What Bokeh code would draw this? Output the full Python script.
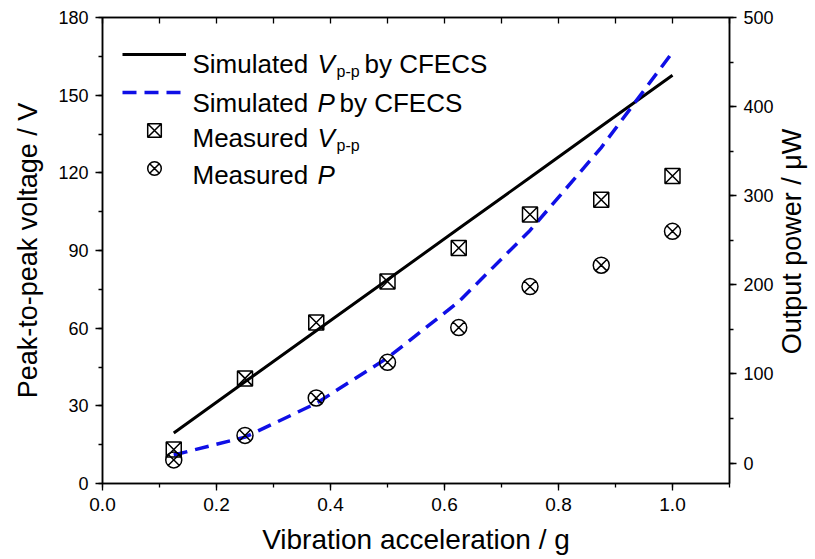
import math
from bokeh.plotting import figure
from bokeh.models import (LinearAxis, Range1d, SingleIntervalTicker, Legend, LegendItem,
                          Label, CustomJSTickFormatter, NumeralTickFormatter)
from bokeh.embed import file_html
from bokeh.resources import INLINE

# ---- data ----
accel = [0.125, 0.25, 0.375, 0.5, 0.625, 0.75, 0.875, 1.0]
sim_vpp = [19.5, 39.3, 59.0, 78.7, 98.5, 118.2, 138.0, 157.7]
sim_power = [9, 29, 67, 118, 181, 261, 354, 461]
meas_vpp = [13.1, 40.6, 62.2, 78.0, 91.0, 103.9, 109.6, 118.8]
meas_power = [3.5, 31, 73, 113, 152, 198, 222, 260]

x_title = "Vibration acceleration / g"
y_title = "Peak-to-peak voltage / V"
y2_title = "Output power / \u03bcW"

FONT = "Liberation Sans"
BLUE = "#0f0fe6"

p = figure(width=815, height=559, x_range=Range1d(0, 1.1), y_range=Range1d(0, 180),
           output_backend="svg", toolbar_location=None,
           min_border_left=102, min_border_right=86, min_border_top=17, min_border_bottom=76)
p.extra_y_ranges = {"power": Range1d(-23, 500)}
p.xgrid.visible = False
p.ygrid.visible = False
p.outline_line_color = "black"
p.outline_line_width = 1.5
p.background_fill_color = "white"
p.border_fill_color = "white"


def style_axis(ax, label_size="18px"):
    ax.axis_line_color = "black"
    ax.axis_line_width = 1.5
    ax.major_tick_line_color = "black"
    ax.minor_tick_line_color = "black"
    ax.major_tick_line_width = 1.3
    ax.minor_tick_line_width = 1.3
    ax.major_tick_in = 0
    ax.minor_tick_in = 0
    ax.major_tick_out = 7
    ax.minor_tick_out = 4
    ax.major_label_text_font = FONT
    ax.major_label_text_font_size = label_size
    ax.major_label_text_color = "black"
    ax.axis_label_text_font = FONT
    ax.axis_label_text_font_style = "normal"
    ax.axis_label_text_font_size = "27px"
    ax.axis_label_text_color = "black"


xa = p.xaxis[0]
xa.ticker = SingleIntervalTicker(interval=0.2, num_minor_ticks=2)
xa.formatter = NumeralTickFormatter(format="0.0")
style_axis(xa, "19px")
xa.axis_label = x_title
xa.axis_label_text_font_size = "28px"
xa.major_label_standoff = 7
xa.axis_label_standoff = 10

ya = p.yaxis[0]
ya.ticker = SingleIntervalTicker(interval=30, num_minor_ticks=2)
style_axis(ya)
ya.axis_label = y_title
ya.major_label_standoff = 7
ya.axis_label_standoff = 12

ya2 = LinearAxis(y_range_name="power", ticker=SingleIntervalTicker(interval=100, num_minor_ticks=2))
style_axis(ya2)
ya2.major_label_standoff = 7
p.add_layout(ya2, "right")

# right-hand title, reading bottom-to-top as in the reference, in its own side panel
p.add_layout(Label(x=791, y=241, x_units="canvas", y_units="canvas", text=y2_title,
                   angle=math.pi / 2, text_font=FONT, text_font_size="27px",
                   text_color="black", text_align="center", text_baseline="middle"),
             "right")

top = LinearAxis(ticker=SingleIntervalTicker(interval=0.1, num_minor_ticks=1),
                 formatter=CustomJSTickFormatter(code="return ''"))
style_axis(top)
top.major_tick_out = 0
top.minor_tick_out = 0
top.major_tick_in = 6
top.minor_tick_in = 0
top.major_label_standoff = 0
p.add_layout(top, "above")

r_sv = p.line(accel, sim_vpp, line_color="black", line_width=3)
r_sp = p.line(accel, sim_power, y_range_name="power", line_color=BLUE, line_width=3.5,
              line_dash="14 8")
r_mv = p.scatter(accel, meas_vpp, marker="square_x", size=15, fill_color=None,
                 line_color="black", line_width=1.5)
r_mp = p.scatter(accel, meas_power, y_range_name="power", marker="circle_x", size=16,
                 fill_color=None, line_color="black", line_width=1.5)

legend = Legend(items=[LegendItem(label=" ", renderers=[r]) for r in (r_sv, r_sp, r_mv, r_mp)],
                location="top_left", margin=10, padding=10, spacing=4,
                glyph_width=64, glyph_height=34, label_height=34, label_width=1,
                label_text_font_size="10px", label_standoff=0,
                background_fill_alpha=0, border_line_alpha=0)
p.add_layout(legend)

# rich-text legend labels, composed of pieces
BIG, SMALL = "26px", "16px"
pieces = [
    # (text, x offset, baseline offset below top, size, style)
    ("Simulated ", 90, 46, BIG, "normal"), ("V", 215, 46, BIG, "italic"),
    ("p-p", 234, 54, SMALL, "normal"), (" by CFECS", 262, 46, BIG, "normal"),
    ("Simulated ", 90, 85, BIG, "normal"), ("P", 215, 85, BIG, "italic"),
    (" by CFECS", 237, 85, BIG, "normal"),
    ("Measured ", 90, 120, BIG, "normal"), ("V", 215, 120, BIG, "italic"),
    ("p-p", 234, 128, SMALL, "normal"),
    ("Measured ", 90, 157, BIG, "normal"), ("P", 215, 157, BIG, "italic"),
]
for txt, dx, dy, size, style in pieces:
    p.add_layout(Label(x=0, y=180, x_offset=dx, y_offset=-dy, text=txt,
                       text_font=FONT, text_font_size=size, text_font_style=style,
                       text_color="black", text_baseline="alphabetic", text_align="left"))

open("out.html", "w").write(file_html(p, INLINE))
